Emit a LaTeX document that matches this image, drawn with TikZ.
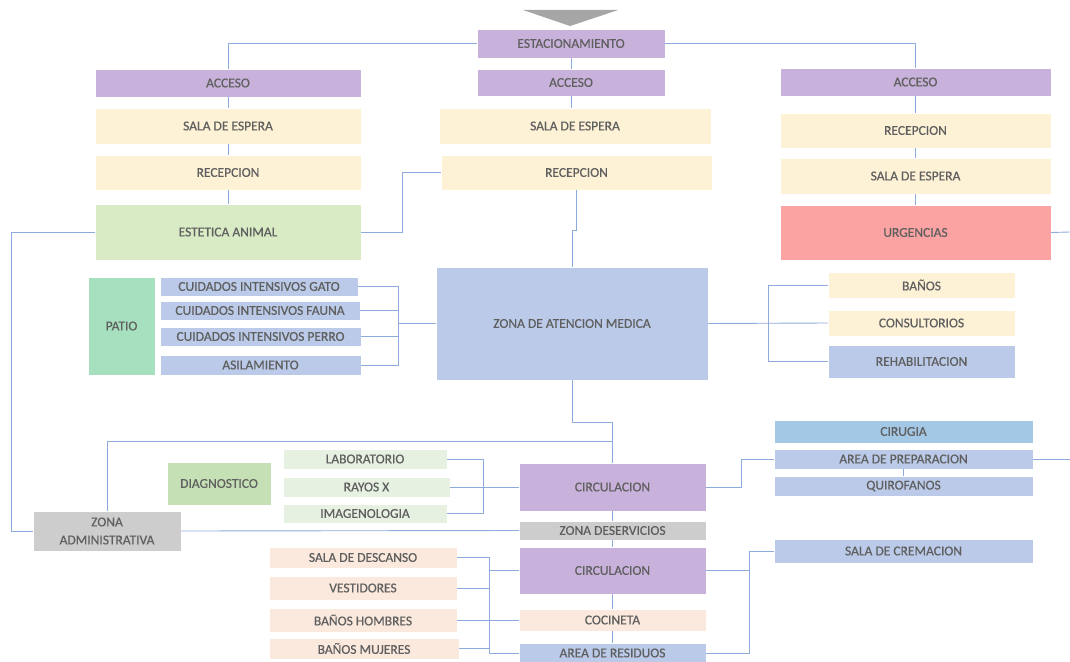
\documentclass[tikz,border=0pt]{standalone}
\usepackage{fontspec}
\setmainfont{Carlito}[FakeBold=0.6]
\definecolor{purp}{RGB}{200,177,218}
\definecolor{cream}{RGB}{253,242,214}
\definecolor{estg}{RGB}{216,235,196}
\definecolor{urgr}{RGB}{250,163,162}
\definecolor{lblue}{RGB}{186,202,232}
\definecolor{patiog}{RGB}{166,224,191}
\definecolor{diagg}{RGB}{197,224,180}
\definecolor{paleg}{RGB}{230,241,225}
\definecolor{grayb}{RGB}{205,205,205}
\definecolor{peach}{RGB}{251,233,221}
\definecolor{cirb}{RGB}{163,200,230}
\definecolor{linec}{RGB}{143,170,220}
\definecolor{txt}{RGB}{95,95,95}
\definecolor{trig}{RGB}{166,166,166}
\newcommand{\bx}[7]{\node[box, fill=#6, minimum width={(#4-#2)*1pt}, minimum height={(#5-#3)*1pt}] (#1) at ({(#2+#4)/2},{(#3+#5)/2}) {#7};}
\begin{document}
\begin{tikzpicture}[x=1pt,y=-1pt,
  box/.style={rectangle, inner sep=0pt, outer sep=0pt, text=txt, align=center,
    font=\fontsize{13.5}{18}\selectfont, draw=white, line width=0.5pt},
  conn/.style={draw=linec, line width=0.9pt}]
\useasboundingbox (0,0) rectangle (1070,661);
\fill[trig] (523,10) -- (618,10) -- (570,26) -- cycle;
% top
\bx{estac}{477}{29}{665}{58}{purp}{ESTACIONAMIENTO}
\bx{acc1}{95}{69}{361}{97}{purp}{ACCESO}
\bx{acc2}{477}{69}{665}{96}{purp}{ACCESO}
\bx{acc3}{780}{68}{1051}{96}{purp}{ACCESO}
\bx{sala1}{95}{108}{361}{144}{cream}{SALA DE ESPERA}
\bx{sala2}{439}{108}{711}{144}{cream}{SALA DE ESPERA}
\bx{rec3}{780}{113}{1051}{148}{cream}{RECEPCION}
\bx{rec1}{95}{155}{361}{190}{cream}{RECEPCION}
\bx{rec2}{441}{155}{712}{190}{cream}{RECEPCION}
\bx{sala3}{780}{158}{1051}{194}{cream}{SALA DE ESPERA}
\bx{est}{95}{204}{361}{260}{estg}{ESTETICA ANIMAL}
\bx{urg}{780}{205}{1051}{260}{urgr}{URGENCIAS}
% middle
\bx{patio}{88}{277}{155}{375}{patiog}{PATIO}
\bx{gato}{160}{277}{358}{296}{lblue}{CUIDADOS INTENSIVOS GATO}
\bx{fauna}{160}{301}{360}{320}{lblue}{CUIDADOS INTENSIVOS FAUNA}
\bx{perro}{160}{327}{361}{346}{lblue}{CUIDADOS INTENSIVOS PERRO}
\bx{asil}{160}{355}{361}{375}{lblue}{ASILAMIENTO}
\bx{zam}{436}{267}{708}{380}{lblue}{ZONA DE ATENCION MEDICA}
\bx{banos}{828}{272}{1015}{298}{cream}{BAÑOS}
\bx{cons}{828}{310}{1015}{336}{cream}{CONSULTORIOS}
\bx{rehab}{828}{345}{1015}{378}{lblue}{REHABILITACION}
% lower
\bx{cirugia}{774}{420}{1033}{443}{cirb}{CIRUGIA}
\bx{prep}{774}{449}{1033}{469}{lblue}{AREA DE PREPARACION}
\bx{quir}{774}{476}{1033}{496}{lblue}{QUIROFANOS}
\bx{diag}{167}{462}{271}{505}{diagg}{DIAGNOSTICO}
\bx{lab}{283}{449}{447}{469}{paleg}{LABORATORIO}
\bx{rayos}{283}{477}{450}{497}{paleg}{RAYOS X}
\bx{imag}{283}{504}{447}{523}{paleg}{IMAGENOLOGIA}
\bx{circ1}{519}{463}{706}{511}{purp}{CIRCULACION}
\bx{zadm}{33}{511}{181}{551}{grayb}{ZONA\\ADMINISTRATIVA}
\bx{zds}{519}{521}{706}{540}{grayb}{ZONA DESERVICIOS}
\bx{circ2}{519}{547}{706}{594}{purp}{CIRCULACION}
\bx{crem}{774}{539}{1033}{563}{lblue}{SALA DE CREMACION}
\bx{desc}{269}{547}{457}{568}{peach}{SALA DE DESCANSO}
\bx{vest}{269}{576}{457}{600}{peach}{VESTIDORES}
\bx{hom}{269}{608}{457}{632}{peach}{BAÑOS HOMBRES}
\bx{muj}{269}{638}{459}{659}{peach}{BAÑOS MUJERES}
\bx{coc}{519}{609}{706}{631}{peach}{COCINETA}
\bx{res}{519}{643}{706}{663}{lblue}{AREA DE RESIDUOS}
% helper coordinates
\coordinate (b1) at (402,0);
\coordinate (j1) at (0,230);
\coordinate (lx) at (11,0);
\coordinate (bx) at (398,0);
\coordinate (rx) at (768,0);
\coordinate (j2) at (0,422);
\coordinate (j3) at (0,441);
\coordinate (dx) at (483,0);
\coordinate (cx1) at (741,0);
\coordinate (cx2) at (749,0);
\coordinate (sx) at (489,0);
\coordinate (e1) at (1070,459);
\coordinate (e2) at (1070,232);
% connectors
\draw[conn] (estac.west) -| (acc1.north);
\draw[conn] (estac.east) -| (acc3.north);
\draw[conn] (estac.south) -- (acc2.north);
\draw[conn] (acc2.south) -- (acc2.south |- sala2.north);
\draw[conn] (acc1.south) -- (sala1.north);
\draw[conn] (sala1.south) -- (rec1.north);
\draw[conn] (rec1.south) -- (est.north);
\draw[conn] (acc3.south) -- (rec3.north);
\draw[conn] (rec3.south) -- (sala3.north);
\draw[conn] (sala3.south) -- (urg.north);
\draw[conn] (urg.east) -- (e2);
\draw[conn] (est.east) -| (b1 |- rec2.west) -- (rec2.west);
\draw[conn] (rec2.south) -- (rec2.south |- j1) -| (zam.north);
\draw[conn] (est.west) -| (lx |- zadm.west) -- (zadm.west);
\draw[conn] (gato.east) -| (bx |- asil.east) -- (asil.east);
\draw[conn] (fauna.east) -- (bx |- fauna.east);
\draw[conn] (perro.east) -- (bx |- perro.east);
\draw[conn] (bx |- zam.west) -- (zam.west);
\draw[conn] (banos.west) -| (rx |- rehab.west) -- (rehab.west);
\draw[conn] (zam.east) -- (cons.west);
\draw[conn] (zam.south) -- (zam.south |- j2) -| (circ1.north);
\draw[conn] (zadm.north) |- (circ1.north |- j3);
\draw[conn] (lab.east) -| (dx |- imag.east) -- (imag.east);
\draw[conn] (rayos.east) -- (circ1.west);
\draw[conn] (circ1.east) -| (cx1 |- prep.west) -- (prep.west);
\draw[conn] (prep.south) -- (quir.north);
\draw[conn] (prep.east) -- (e1);
\draw[conn] (zadm.east) -- (zds.west);
\draw[conn] (circ1.south) -- (zds.north);
\draw[conn] (zds.south) -- (circ2.north);
\draw[conn] (circ2.south) -- (coc.north);
\draw[conn] (coc.south) -- (res.north);
\draw[conn] (desc.east) -| (sx |- res.west) -- (res.west);
\draw[conn] (vest.east) -- (sx |- vest.east);
\draw[conn] (sx |- circ2.west) -- (circ2.west);
\draw[conn] (hom.east) -- (coc.west);
\draw[conn] (muj.east) -- (sx |- muj.east);
\draw[conn] (circ2.east) -| (cx2 |- crem.west) -- (crem.west);
\draw[conn] (cx2 |- circ2.east) |- (res.east);
\end{tikzpicture}
\end{document}
